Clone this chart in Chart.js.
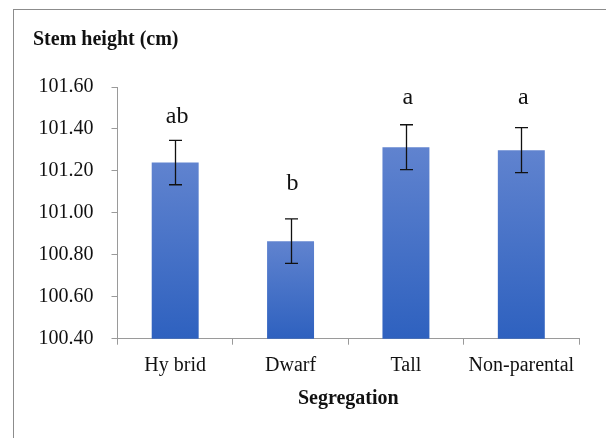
<!DOCTYPE html>
<html>
<head>
<meta charset="utf-8">
<script src="https://cdn.jsdelivr.net/npm/chart.js@4.4.0/dist/chart.umd.min.js"></script>
<style>
  html, body { margin: 0; padding: 0; background: #fff; overflow: hidden; }
  #frame {
    position: absolute; left: 13px; top: 9px;
    width: 620px; height: 460px;
    border: 1px solid #8c8c8c;
  }
  #chart { position: absolute; left: 0; top: 0; }
</style>
</head>
<body>
<div id="frame"></div>
<canvas id="chart" width="606" height="438"></canvas>
<script>
const categories = ["Hy brid", "Dwarf", "Tall", "Non-parental"];
const means = [101.24, 100.865, 101.313, 101.299];
const stdErr = [0.106, 0.106, 0.107, 0.107];
const letters = ["ab", "b", "a", "a"];
const letterAt = [101.43, 101.11, 101.518, 101.518];
const yTicks = [100.4, 100.6, 100.8, 101.0, 101.2, 101.4, 101.6];

const serif = "'Liberation Serif', 'Times New Roman', serif";

// error bars + significance letters, placed through the y scale
const errorBars = {
  id: "errorBars",
  afterDatasetsDraw(chart) {
    const ctx = chart.ctx;
    const y = chart.scales.y;
    const meta = chart.getDatasetMeta(0);
    ctx.save();
    ctx.strokeStyle = "#111";
    ctx.lineWidth = 1.3;
    meta.data.forEach((bar, i) => {
      const x = Math.round(bar.x) + 0.5;
      const top = y.getPixelForValue(means[i] + stdErr[i]);
      const bot = y.getPixelForValue(means[i] - stdErr[i]);
      ctx.beginPath();
      ctx.moveTo(x, top); ctx.lineTo(x, bot);
      ctx.moveTo(x - 6.5, top); ctx.lineTo(x + 6.5, top);
      ctx.moveTo(x - 6.5, bot); ctx.lineTo(x + 6.5, bot);
      ctx.stroke();
      ctx.fillStyle = "#111";
      ctx.font = "24px " + serif;
      ctx.textAlign = "center";
      ctx.textBaseline = "alphabetic";
      ctx.fillText(letters[i], bar.x + 2, y.getPixelForValue(letterAt[i]));
    });
    ctx.restore();
  }
};

function barFill(context) {
  const chart = context.chart;
  const y = chart.scales.y;
  if (!chart.chartArea || !y) return "#4a72c8";
  const top = y.getPixelForValue(means[context.dataIndex]);
  const bottom = chart.chartArea.bottom;
  const g = chart.ctx.createLinearGradient(0, top, 0, bottom);
  g.addColorStop(0, "#6083cf");
  g.addColorStop(1, "#2e61bf");
  return g;
}

new Chart(document.getElementById("chart"), {
  type: "bar",
  data: {
    labels: categories,
    datasets: [{
      data: means,
      backgroundColor: barFill,
      borderWidth: 0,
      categoryPercentage: 1,
      barPercentage: 0.407
    }]
  },
  options: {
    responsive: false,
    animation: false,
    layout: { padding: { left: 33, right: 27, top: 0, bottom: 0 } },
    plugins: {
      legend: { display: false },
      tooltip: { enabled: false },
      title: {
        display: true,
        text: "Stem height (cm)",
        align: "start",
        color: "#111",
        font: { family: serif, size: 20, weight: "bold" },
        padding: { top: 28, bottom: 35 }
      }
    },
    scales: {
      y: {
        min: 100.4,
        max: 101.6,
        afterBuildTicks: (s) => { s.ticks = yTicks.map(v => ({ value: v })); },
        afterFit: (s) => { s.width = 84.5; },
        ticks: {
          color: "#111",
          font: { family: serif, size: 20 },
          padding: 18,
          callback: (v) => Number(v).toFixed(2)
        },
        grid: { drawOnChartArea: false, tickLength: 6, color: "#9a9a9a" },
        border: { color: "#9a9a9a", width: 1 }
      },
      x: {
        afterFit: (s) => { s.height = 99.3; },
        ticks: {
          color: "#111",
          font: { family: serif, size: 20 },
          padding: 9,
          maxRotation: 0,
          autoSkip: false
        },
        grid: { drawOnChartArea: false, tickLength: 6, color: "#9a9a9a", offset: true },
        border: { color: "#9a9a9a", width: 1 },
        title: {
          display: true,
          text: "Segregation",
          color: "#111",
          font: { family: serif, size: 20, weight: "bold" },
          padding: { top: 0, bottom: 27 }
        }
      }
    }
  },
  plugins: [errorBars]
});
</script>
</body>
</html>
